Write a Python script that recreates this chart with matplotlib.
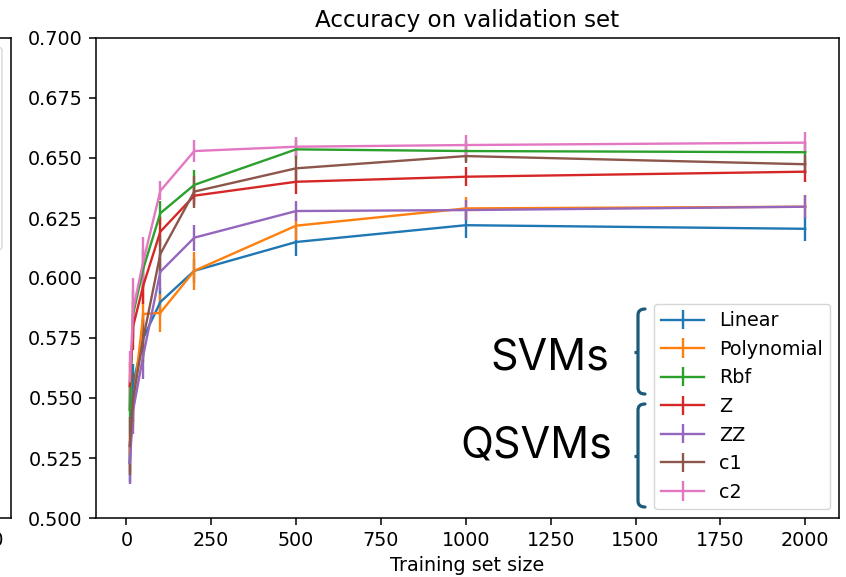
import numpy as np
import matplotlib
matplotlib.use('Agg')
import matplotlib.pyplot as plt
from matplotlib.path import Path
from matplotlib.patches import PathPatch, FancyBboxPatch

# training set sizes and mean validation accuracy per kernel
train_sizes = [10, 20, 50, 100, 200, 500, 1000, 2000]
model_names = ['Linear', 'Polynomial', 'Rbf', 'Z', 'ZZ', 'c1', 'c2']

acc_linear = [0.523, 0.556, 0.575, 0.590, 0.603, 0.615, 0.622, 0.6205]
acc_poly = [0.527, 0.548, 0.585, 0.5855, 0.603, 0.6218, 0.629, 0.6297]
acc_rbf = [0.545, 0.585, 0.604, 0.627, 0.6388, 0.6536, 0.6529, 0.6524]
acc_z = [0.555, 0.580, 0.597, 0.6193, 0.6343, 0.6401, 0.6422, 0.6443]
acc_zz = [0.523, 0.545, 0.568, 0.6026, 0.6168, 0.6279, 0.6283, 0.6297]
acc_c1 = [0.530, 0.550, 0.575, 0.610, 0.636, 0.6457, 0.6508, 0.6474]
acc_c2 = [0.557, 0.587, 0.607, 0.6363, 0.6529, 0.6547, 0.6554, 0.6564]

# standard deviations over runs
std_linear = [0.008, 0.008, 0.008, 0.006, 0.005, 0.006, 0.0054, 0.005]
std_poly = [0.008, 0.010, 0.012, 0.008, 0.0079, 0.006, 0.0048, 0.0048]
std_rbf = [0.010, 0.010, 0.008, 0.005, 0.006, 0.004, 0.004, 0.004]
std_z = [0.010, 0.010, 0.008, 0.006, 0.004, 0.005, 0.004, 0.0045]
std_zz = [0.009, 0.010, 0.010, 0.008, 0.0054, 0.004, 0.004, 0.0048]
std_c1 = [0.012, 0.010, 0.010, 0.008, 0.0067, 0.006, 0.003, 0.004]
std_c2 = [0.0125, 0.013, 0.010, 0.004, 0.0044, 0.004, 0.0042, 0.0043]

accs = [acc_linear, acc_poly, acc_rbf, acc_z, acc_zz, acc_c1, acc_c2]
stds = [std_linear, std_poly, std_rbf, std_z, std_zz, std_c1, std_c2]

plt.rcParams['font.size'] = 13.8
plt.rcParams['axes.linewidth'] = 1.1
for a in ('xtick', 'ytick'):
    plt.rcParams[a + '.major.size'] = 4.8
    plt.rcParams[a + '.major.width'] = 1.1
    plt.rcParams[a + '.major.pad'] = 4.8

W, H = 846, 577
fig = plt.figure(figsize=(W / 100, H / 100), dpi=100)


def px_box(left, top, right, bottom):
    return [left / W, (H - bottom) / H, (right - left) / W, (bottom - top) / H]


# neighbouring panel (only its right edge shows)
ax0 = fig.add_axes(px_box(-729, 38, 11, 518))
ax0.set_xlim(-89.5, 2091)
ax0.set_ylim(0.5, 0.7)
ax0.set_xticks([2000])
ax0.set_yticks([])
fig.patches.append(FancyBboxPatch((-200 / W, (H - 250) / H), 202 / W, 203 / H,
                                  boxstyle='round,pad=0,rounding_size=0.006',
                                  transform=fig.transFigure, facecolor='white',
                                  edgecolor='#d9d9d9', lw=1.0, zorder=5))

# main panel
ax = fig.add_axes(px_box(96, 38, 839, 518))
for name, acc, sd in zip(model_names, accs, stds):
    ax.errorbar(train_sizes, acc, yerr=sd, label=name, lw=1.7)

ax.set_ylim(0.5, 0.7)
ax.set_xticks(np.arange(0, 2001, 250))
ax.set_title('Accuracy on validation set', pad=8)
ax.set_xlabel('Training set size', labelpad=4)
ax.legend(loc='lower right', fontsize=13.8, handlelength=2.2,
          labelspacing=0.5, borderaxespad=0.45)


# brackets grouping the legend entries
def bracket(x, top, bottom, color='#1b5a7a'):
    mid = (top + bottom) / 2
    r = 6
    pts = [(x + 7, top), (x, top), (x, top + r),
           (x, bottom - r), (x, bottom), (x + 7, bottom)]
    codes = [Path.MOVETO, Path.CURVE3, Path.CURVE3,
             Path.LINETO, Path.CURVE3, Path.CURVE3]
    verts = [(px / W, (H - py) / H) for px, py in pts]
    fig.patches.append(PathPatch(Path(verts, codes), transform=fig.transFigure,
                                 fill=False, edgecolor=color, lw=2.3,
                                 capstyle='round', zorder=6))
    nub = Path([((x - 4) / W, (H - mid) / H), (x / W, (H - mid) / H)])
    fig.patches.append(PathPatch(nub, transform=fig.transFigure, fill=False,
                                 edgecolor=color, lw=2.3, zorder=6))


bracket(638, 309, 394)
bracket(638, 404, 507)

fig.text(609 / W, (H - 369) / H, 'SVMs', ha='right', va='baseline',
         fontsize=31, family=['Inter', 'DejaVu Sans'])
fig.text(612 / W, (H - 458) / H, 'QSVMs', ha='right', va='baseline',
         fontsize=31, family=['Inter', 'DejaVu Sans'])

fig.savefig('out.png', dpi=100, facecolor='white')
